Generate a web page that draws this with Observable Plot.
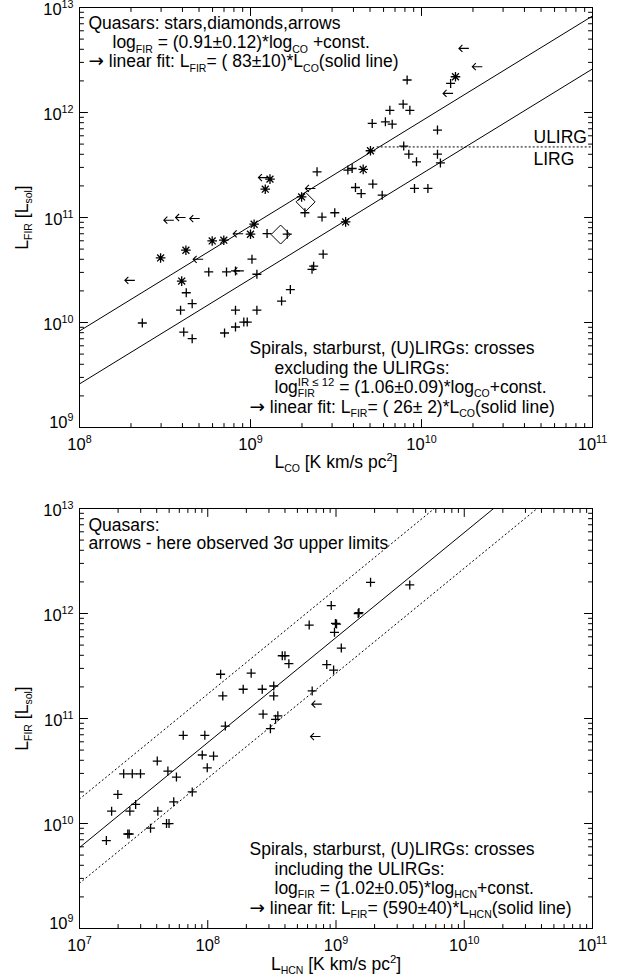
<!DOCTYPE html>
<html><head><meta charset="utf-8">
<script src="https://cdn.jsdelivr.net/npm/d3@7"></script>
<script src="https://cdn.jsdelivr.net/npm/@observablehq/plot@0.6"></script>
<style>
html,body{margin:0;padding:0;background:#fff;}
#chart svg{display:block;}
</style></head><body><div id="chart"></div>
<script>
// ---------- DATA: top panel (L_CO vs L_FIR) ----------
const coQuasarStars = [
  [2.98e8,4.12e10],[4.19e8,4.88e10],[3.96e8,2.48e10],[5.97e8,5.98e10],[6.98e8,6.08e10],
  [1.05e9,8.63e10],[1.00e9,6.93e10],[1.30e9,2.32e11],[1.22e9,1.86e11],[1.99e9,1.57e11],
  [3.60e9,9.08e10],[5.03e9,4.32e11],[4.56e9,2.87e11],[1.58e10,2.19e12]
];
const coQuasarDiamonds = [[2.10e9,1.41e11],[1.50e9,6.88e10]];
const coQuasarArrows = [
  [1.97e8,2.52e10],[3.33e8,9.42e10],[3.90e8,1.00e11],[4.72e8,9.77e10],[4.94e8,4.00e10],
  [8.47e8,7.00e10],[1.19e9,2.40e11],[8.55e8,3.10e10],[2.24e9,1.89e11],[1.77e10,4.08e12],
  [2.12e10,2.73e12],[1.43e10,1.52e12]
];
const coGalaxyCrosses = [
  [2.45e9,2.72e11],[3.71e9,2.83e11],[3.93e9,2.93e11],[4.11e9,1.93e11],[4.44e9,1.69e11],
  [2.08e9,1.11e11],[2.62e9,1.01e11],[3.11e9,1.11e11],[1.25e9,7.03e10],[1.64e9,6.93e10],
  [1.02e9,4.01e10],[5.70e8,3.03e10],[7.24e8,3.03e10],[8.17e8,3.10e10],[1.09e9,2.88e10],
  [2.66e9,4.47e10],[2.34e9,3.44e10],[2.29e9,3.21e10],[1.71e9,2.06e10],[1.52e9,1.60e10],
  [4.21e8,1.92e10],[4.56e8,1.51e10],[3.90e8,1.31e10],[4.07e8,8.11e9],[4.56e8,7.01e9],
  [7.05e8,7.94e9],[8.17e8,9.06e9],[8.17e8,1.31e10],[1.09e9,1.31e10],[9.14e8,1.01e10],
  [9.57e8,1.01e10],[2.33e8,9.89e9],[8.24e9,2.04e12],[7.81e9,1.20e12],[8.55e9,1.05e12],
  [6.53e9,1.05e12],[5.15e9,7.87e11],[6.15e9,8.15e11],[6.74e9,7.74e11],[1.24e10,6.80e11],
  [7.87e9,4.79e11],[8.43e9,4.01e11],[9.35e9,3.39e11],[1.24e10,4.01e11],[1.29e10,3.31e11],
  [5.19e9,2.08e11],[5.89e9,1.63e11],[9.10e9,1.89e11],[1.09e10,1.89e11],[1.48e10,1.89e12]
];
const coFitQuasar = 83;      // L_FIR = 83 * L_CO
const coFitGalaxy = 26;      // L_FIR = 26 * L_CO
const ulirgLimit = 4.7e11;   // dotted ULIRG / LIRG divide
const ulirgStart = 5.5e9;
const coXTicks = [1e8,1e9,1e10,1e11];
const coXTickLabels = ["10^{8}","10^{9}","10^{10}","10^{11}"];

// ---------- DATA: bottom panel (L_HCN vs L_FIR) ----------
const hcnCrosses = [
  [1.78e7,1.31e10],[1.99e7,1.89e10],[2.21e7,2.97e10],[2.58e7,2.97e10],[2.99e7,2.97e10],
  [2.47e7,1.31e10],[2.74e7,1.52e10],[4.04e7,3.93e10],[4.08e7,1.31e10],[4.89e7,3.16e10],
  [5.70e7,2.77e10],[5.43e7,1.61e10],[4.77e7,9.98e9],[4.99e7,9.98e9],[3.58e7,9.02e9],
  [2.38e7,7.94e9],[2.44e7,7.94e9],[1.62e7,6.87e9],[7.57e7,2.00e10],[6.44e7,6.92e10],
  [9.49e7,6.92e10],[9.06e7,4.49e10],[1.11e8,4.39e10],[9.91e7,3.39e10],[1.26e8,2.64e11],
  [1.31e8,1.64e11],[1.89e8,1.90e11],[2.18e8,2.70e11],[1.37e8,8.47e10],[2.66e8,1.90e11],
  [3.27e8,2.04e11],[3.27e8,1.64e11],[2.70e8,1.10e11],[3.52e8,1.06e11],[3.38e8,9.82e10],
  [3.08e8,8.00e10],[3.81e8,3.96e11],[4.00e8,3.96e11],[4.29e8,3.33e11],[6.18e8,7.76e11],
  [9.18e8,1.19e12],[1.01e9,7.93e11],[9.90e8,8.05e11],[9.73e8,6.62e11],[8.47e8,3.26e11],
  [9.58e8,2.89e11],[6.52e8,1.83e11],[1.86e9,1.98e12],[3.76e9,1.87e12],[1.51e9,1.02e12],
  [1.49e9,1.00e12],[1.10e9,4.68e11]
];
const hcnQuasarArrows = [[7.08e8,1.37e11],[6.92e8,6.73e10]];
const hcnFit = 590;          // L_FIR = 590 * L_HCN
const hcnFitUpper = 1710;    // dotted envelope
const hcnFitLower = 270;
const hcnXTicks = [1e7,1e8,1e9,1e10,1e11];
const hcnXTickLabels = ["10^{7}","10^{8}","10^{9}","10^{10}","10^{11}"];

const firTicks = [1e9,1e10,1e11,1e12,1e13];
const firTickLabels = ["10^{9}","10^{10}","10^{11}","10^{12}","10^{13}"];

// ---------- helpers ----------
const FONT = "'Liberation Sans', Arial, Helvetica, sans-serif";
const rOf = s => Math.sqrt(s / Math.PI);
const plusSym = {draw(c, s){const r=rOf(s); c.moveTo(-r,0);c.lineTo(r,0);c.moveTo(0,-r);c.lineTo(0,r);}};
const starSym = {draw(c, s){const r=rOf(s), q=r*0.72; c.moveTo(-r,0);c.lineTo(r,0);c.moveTo(0,-r);c.lineTo(0,r);
  c.moveTo(-q,-q);c.lineTo(q,q);c.moveTo(-q,q);c.lineTo(q,-q);}};
const diamondSym = {draw(c, s){const r=rOf(s); c.moveTo(0,-r);c.lineTo(r,0);c.lineTo(0,r);c.lineTo(-r,0);c.closePath();}};
const arrowSym = {draw(c, s){const r=rOf(s), h=r*0.7; c.moveTo(r,0);c.lineTo(-r,0);c.moveTo(-r+h,-h);c.lineTo(-r,0);c.lineTo(-r+h,h);}};
const tickShape = {draw(c, l){c.moveTo(0,0);c.lineTo(0,-l);}};

function minors(lo, hi){const o=[];for(let e=lo;e<hi;e++)for(let k=2;k<=9;k++)o.push(k*10**e);return o;}

function frameTicks(xMaj, xMin, yMaj, yMin){
  const o = {stroke:"black", strokeWidth:1, anchor:"start", shape:tickShape};
  const m = [];
  for (const [t,len] of [[xMaj,8],[xMin,4]]) {
    m.push(Plot.vector(t,{...o,x:d=>d,frameAnchor:"bottom",length:len,rotate:0}));
    m.push(Plot.vector(t,{...o,x:d=>d,frameAnchor:"top",length:len,rotate:180}));
  }
  for (const [t,len] of [[yMaj,8],[yMin,4]]) {
    m.push(Plot.vector(t,{...o,y:d=>d,frameAnchor:"left",length:len,rotate:90}));
    m.push(Plot.vector(t,{...o,y:d=>d,frameAnchor:"right",length:len,rotate:-90}));
  }
  return m;
}
function tickLabels(xt, xl, yt, yl){
  const yo = {text:(d,i)=>yl[yt.indexOf(d)],y:d=>d,frameAnchor:"left",dx:-6,lineAnchor:"bottom",textAnchor:"end",fontSize:16.5};
  return [
    Plot.text(xt,{x:d=>d,text:(d,i)=>xl[i],frameAnchor:"bottom",dy:22,lineAnchor:"bottom",textAnchor:"middle",fontSize:16.5}),
    Plot.text(yt.slice(0,1),{...yo,dy:0}),
    Plot.text(yt.slice(1),{...yo,dy:7.5})
  ];
}
function note(str, frameAnchor, dx, dy, extra={}){
  return Plot.text([str],{text:d=>d,frameAnchor,dx,dy,textAnchor:"start",lineAnchor:"bottom",fontSize:17.5,fill:"black",...extra});
}
const pts = (data, symbol, r, sw=1.3) => Plot.dot(data,{x:d=>d[0],y:d=>d[1],symbol,r,stroke:"black",strokeWidth:sw,fill:"none"});
const fitLine = (k, x0, x1, extra={}) => Plot.line([[x0,k*x0],[x1,k*x1]],{x:d=>d[0],y:d=>d[1],stroke:"black",strokeWidth:1,clip:true,...extra});

// ---------- top panel ----------
const topChart = Plot.plot({
  width:620, height:501, marginTop:7, marginBottom:74, marginLeft:79, marginRight:28,
  style:{fontFamily:FONT, fontSize:"17px", background:"white", color:"black", overflow:"visible"},
  x:{type:"log", domain:[1e8,1e11], axis:null},
  y:{type:"log", domain:[1e9,1e13], axis:null},
  marks:[
    fitLine(coFitQuasar,1e8,1e11),
    fitLine(coFitGalaxy,1e8,1e11),
    Plot.line([[ulirgStart,ulirgLimit],[1e11,ulirgLimit]],{x:d=>d[0],y:d=>d[1],stroke:"black",strokeWidth:1,strokeDasharray:"1.2,2.8"}),
    pts(coGalaxyCrosses, plusSym, 4.5),
    pts(coQuasarStars, starSym, 4.8),
    pts(coQuasarDiamonds, diamondSym, 9.5, 1),
    pts(coQuasarArrows, arrowSym, 5, 1.1),
    Plot.frame({stroke:"black", strokeWidth:1}),
    ...frameTicks(coXTicks, minors(8,11), firTicks, minors(9,13)),
    ...tickLabels(coXTicks, coXTickLabels, firTicks, firTickLabels),
    note("Quasars: stars,diamonds,arrows","top-left",9,21.3),
    note("log_{FIR} = (0.91±0.12)*log_{CO} +const.","top-left",33,40.7),
    note("→ linear fit: L_{FIR}= ( 83±10)*L_{CO}(solid line)","top-left",9,59.7),
    note("ULIRG","top-left",454,135),
    note("LIRG","top-left",454,157),
    note("Spirals, starburst, (U)LIRGs: crosses","bottom-left",170,-73.5),
    note("excluding the ULIRGs:","bottom-left",195,-54),
    note("log^{IR ≤ 12}_{FIR} = (1.06±0.09)*log_{CO}+const.","bottom-left",195,-34.5),
    note("→ linear fit: L_{FIR}= ( 26± 2)*L_{CO}(solid line)","bottom-left",170,-14.5),
    note("L_{CO} [K km/s pc^{2}]","bottom",0,40,{textAnchor:"middle"}),
    note("L_{FIR} [L_{sol}]","left",-57,0,{textAnchor:"middle",lineAnchor:"middle",rotate:-90})
  ]
});

// ---------- bottom panel ----------
const bottomChart = Plot.plot({
  width:620, height:476, marginTop:7, marginBottom:49, marginLeft:79, marginRight:28,
  style:{fontFamily:FONT, fontSize:"17px", background:"white", color:"black", overflow:"visible"},
  x:{type:"log", domain:[1e7,1e11], axis:null},
  y:{type:"log", domain:[1e9,1e13], axis:null},
  marks:[
    fitLine(hcnFit,1e7,1e11),
    fitLine(hcnFitUpper,1e7,1e11,{strokeDasharray:"1.2,3"}),
    fitLine(hcnFitLower,1e7,1e11,{strokeDasharray:"1.2,3"}),
    pts(hcnCrosses, plusSym, 4.5),
    pts(hcnQuasarArrows, arrowSym, 5, 1.1),
    Plot.frame({stroke:"black", strokeWidth:1}),
    ...frameTicks(hcnXTicks, minors(7,11), firTicks, minors(9,13)),
    ...tickLabels(hcnXTicks, hcnXTickLabels, firTicks, firTickLabels),
    note("Quasars:","top-left",9,22),
    note("arrows - here observed 3σ upper limits","top-left",9,40.3),
    note("Spirals, starburst, (U)LIRGs: crosses","bottom-left",170,-73.5),
    note("including the ULIRGs:","bottom-left",195,-54),
    note("log_{FIR} = (1.02±0.05)*log_{HCN}+const.","bottom-left",195,-34.5),
    note("→ linear fit: L_{FIR}= (590±40)*L_{HCN}(solid line)","bottom-left",170,-14.5),
    note("L_{HCN} [K km/s pc^{2}]","bottom",0,41,{textAnchor:"middle"}),
    note("L_{FIR} [L_{sol}]","left",-57,0,{textAnchor:"middle",lineAnchor:"middle",rotate:-90})
  ]
});

const host = document.getElementById("chart");
host.appendChild(topChart);
host.appendChild(bottomChart);

// ---------- rich text: _{sub}, ^{sup} and the arrow glyph into tspans ----------
function richify(svg){
  const NS = "http://www.w3.org/2000/svg";
  svg.querySelectorAll("text").forEach(t => {
    if (t.querySelector("tspan")) return;
    const s = t.textContent;
    if (!/[_^]\{|→/.test(s)) return;
    const base = parseFloat(t.getAttribute("font-size")) || parseFloat(getComputedStyle(t).fontSize) || 17;
    const re = /([_^])\{([^}]*)\}|(→)/g; let last = 0, m; const segs = [];
    while ((m = re.exec(s))) {
      if (m.index > last) segs.push({k:"n", s:s.slice(last,m.index)});
      if (m[3]) segs.push({k:"a", s:m[3]}); else segs.push({k:m[1], s:m[2]});
      last = re.lastIndex;
    }
    if (last < s.length) segs.push({k:"n", s:s.slice(last)});
    t.textContent = "";
    let off = 0, prev = null, pendingDx = 0;
    for (const seg of segs) {
      const ts = document.createElementNS(NS, "tspan");
      ts.textContent = seg.s;
      let target, fs;
      if (seg.k === "n") { target = 0; fs = base; }
      else if (seg.k === "a") { target = 0; fs = base*1.05; ts.setAttribute("font-family","'DejaVu Sans', sans-serif"); }
      else if (seg.k === "_") { target = base*0.25; fs = base*0.6; }
      else { target = -base*0.4; fs = base*0.65; }
      ts.setAttribute("font-size", fs);
      ts.setAttribute("dy", (target - off).toFixed(2));
      off = target;
      const script = k => k === "_" || k === "^";
      const stacked = prev && script(seg.k) && script(prev.k) && prev.k !== seg.k;
      let dx = 0;
      if (stacked) dx -= prev.len;
      else { dx += pendingDx; pendingDx = 0; }
      if (dx) ts.setAttribute("dx", dx.toFixed(2));
      t.appendChild(ts);
      const len = ts.getComputedTextLength();
      if (stacked) { pendingDx = Math.max(0, prev.len - len); prev = {k:"n", len:0}; }
      else prev = {k:seg.k, len};
    }
  });
}
richify(topChart); richify(bottomChart);
</script>
</body></html>
